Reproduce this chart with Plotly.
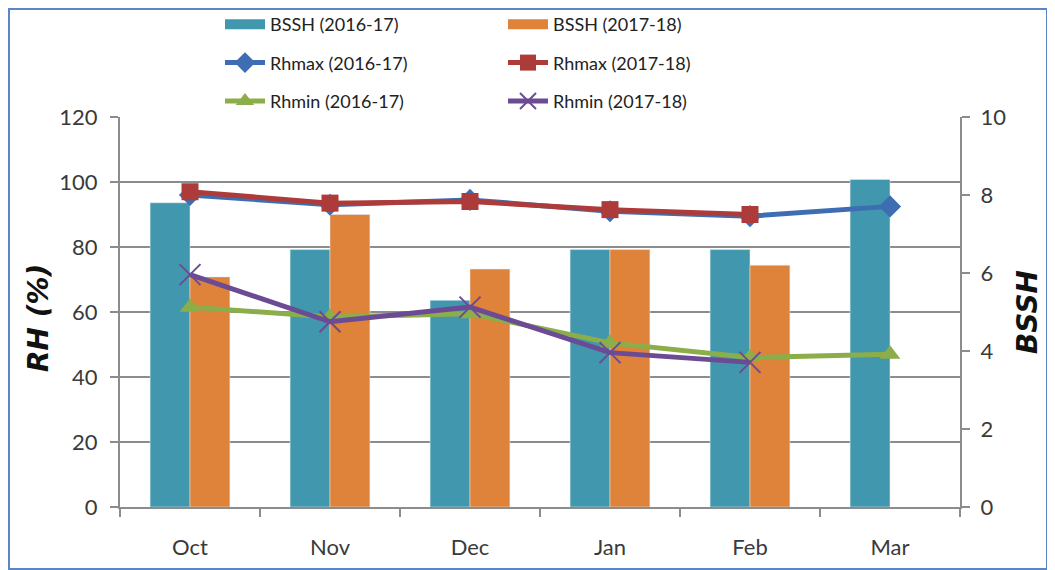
import plotly.graph_objects as go

months = ["Oct", "Nov", "Dec", "Jan", "Feb", "Mar"]
bssh_1617 = [7.8, 6.6, 5.3, 6.6, 6.6, 8.4]
bssh_1718 = [5.9, 7.5, 6.1, 6.6, 6.2, None]
rhmax_1617 = [96.0, 93.0, 94.5, 91.0, 89.5, 92.5]
rhmax_1718 = [97.0, 93.5, 94.0, 91.5, 90.0, None]
rhmin_1617 = [61.5, 58.5, 59.5, 50.5, 46.0, 47.0]
rhmin_1718 = [71.5, 57.0, 61.5, 47.5, 44.5, None]

FONT = "Lato, Liberation Sans, Arial, sans-serif"
TFONT = "DejaVu Sans, Verdana, sans-serif"
TEAL = "#4197AE"
ORANGE = "#DF823A"
BLUE = "#3E6DB3"
RED = "#AD3B3A"
GREEN = "#8BAE4A"
PURPLE = "#6C4B95"
GRID = "#8C8C8C"
TXT = "#3A3A3A"

# The page body has an 8px margin; work in page pixels and convert.
OFF = 8
W, H = 1055 - OFF, 570 - OFF
P_LEFT, P_RIGHT, P_TOP, P_BOTTOM = 120, 960, 117, 507
L = P_LEFT - OFF
R = 1055 - P_RIGHT
T = P_TOP - OFF
B = 570 - P_BOTTOM
pw, ph = P_RIGHT - P_LEFT, P_BOTTOM - P_TOP


def px(x):
    return (x - P_LEFT) / pw


def py(y):
    return (P_BOTTOM - y) / ph


fig = go.Figure()
fig.add_trace(go.Bar(x=months, y=bssh_1617, name="BSSH (2016-17)", marker_color=TEAL,
                     yaxis="y", showlegend=False, legendgroup="a"))
fig.add_trace(go.Bar(x=months, y=bssh_1718, name="BSSH (2017-18)", marker_color=ORANGE,
                     yaxis="y", showlegend=False, legendgroup="b"))
# legend swatches for the bar series (wide rectangles like the original)
fig.add_trace(go.Scatter(x=[None], y=[None], name="BSSH (2016-17)", mode="lines",
                         line=dict(color=TEAL, width=17), yaxis="y",
                         legend="legend", legendgroup="a"))
fig.add_trace(go.Scatter(x=[None], y=[None], name="BSSH (2017-18)", mode="lines",
                         line=dict(color=ORANGE, width=17), yaxis="y",
                         legend="legend2", legendgroup="b"))
fig.add_trace(go.Scatter(x=months, y=rhmax_1617, name="Rhmax (2016-17)", mode="lines+markers",
                         line=dict(color=BLUE, width=5),
                         marker=dict(symbol="diamond", size=17, color=BLUE),
                         yaxis="y2", legend="legend", legendgroup="c"))
fig.add_trace(go.Scatter(x=months, y=rhmax_1718, name="Rhmax (2017-18)", mode="lines+markers",
                         line=dict(color=RED, width=5),
                         marker=dict(symbol="square", size=17, color=RED),
                         yaxis="y2", legend="legend2", legendgroup="d"))
fig.add_trace(go.Scatter(x=months, y=rhmin_1617, name="Rhmin (2016-17)", mode="lines+markers",
                         line=dict(color=GREEN, width=5),
                         marker=dict(symbol="triangle-up", size=18, color=GREEN),
                         yaxis="y2", legend="legend", legendgroup="e"))
fig.add_trace(go.Scatter(x=months, y=rhmin_1718, name="Rhmin (2017-18)", mode="lines+markers",
                         line=dict(color=PURPLE, width=5),
                         marker=dict(symbol="x-thin-open", size=21, color=PURPLE,
                                     line=dict(color=PURPLE, width=2)),
                         yaxis="y2", legend="legend2", legendgroup="f"))

legend_common = dict(orientation="v", yanchor="top", xanchor="left",
                     font=dict(family=FONT, size=18, color="#222"),
                     bgcolor="rgba(0,0,0,0)", tracegroupgap=12, itemwidth=40)

tick_font = dict(family=FONT, size=22, color=TXT)
title_font = dict(family=TFONT, size=28, color="#111")

fig.update_layout(
    width=W, height=H,
    margin=dict(l=L, r=R, t=T, b=B, autoexpand=False),
    paper_bgcolor="white", plot_bgcolor="white",
    barmode="group", bargap=0.43, bargroupgap=0,
    font=dict(family=FONT, size=20, color=TXT),
    legend=dict(x=px(220), y=py(6), **legend_common),
    legend2=dict(x=px(503), y=py(6), **legend_common),
    xaxis=dict(showline=True, linecolor=GRID, linewidth=2,
               ticks="outside", tickson="boundaries", ticklen=8, tickwidth=2,
               tickcolor=GRID, tickfont=tick_font,
               ticklabelstandoff=20, showgrid=False, zeroline=False),
    yaxis=dict(side="right", range=[0, 10], dtick=2, showgrid=False, zeroline=False,
               showline=True, linecolor=GRID, linewidth=2,
               ticks="outside", ticklen=8, tickwidth=2, tickcolor=GRID,
               tickfont=tick_font, ticklabelstandoff=6,
               title=dict(text="<b><i>BSSH</i></b>", standoff=12, font=title_font)),
    yaxis2=dict(overlaying="y", side="left", range=[0, 120], dtick=20,
                showgrid=True, gridcolor=GRID, gridwidth=2, zeroline=False,
                showline=True, linecolor=GRID, linewidth=2,
                ticks="outside", ticklen=8, tickwidth=2, tickcolor=GRID,
                tickfont=tick_font, ticklabelstandoff=8),
    annotations=[dict(text="<b><i>RH (%)</i></b>", xref="paper", yref="paper",
                      x=px(38), y=py(318), xanchor="center", yanchor="middle",
                      textangle=-90, showarrow=False, font=title_font)],
    shapes=[dict(type="rect", xref="paper", yref="paper",
                 x0=px(OFF + 1), x1=px(1047), y0=py(569), y1=py(OFF + 1),
                 line=dict(color="#5A86C5", width=2), fillcolor="rgba(0,0,0,0)",
                 layer="above")],
)

fig.write_html("out.html")
